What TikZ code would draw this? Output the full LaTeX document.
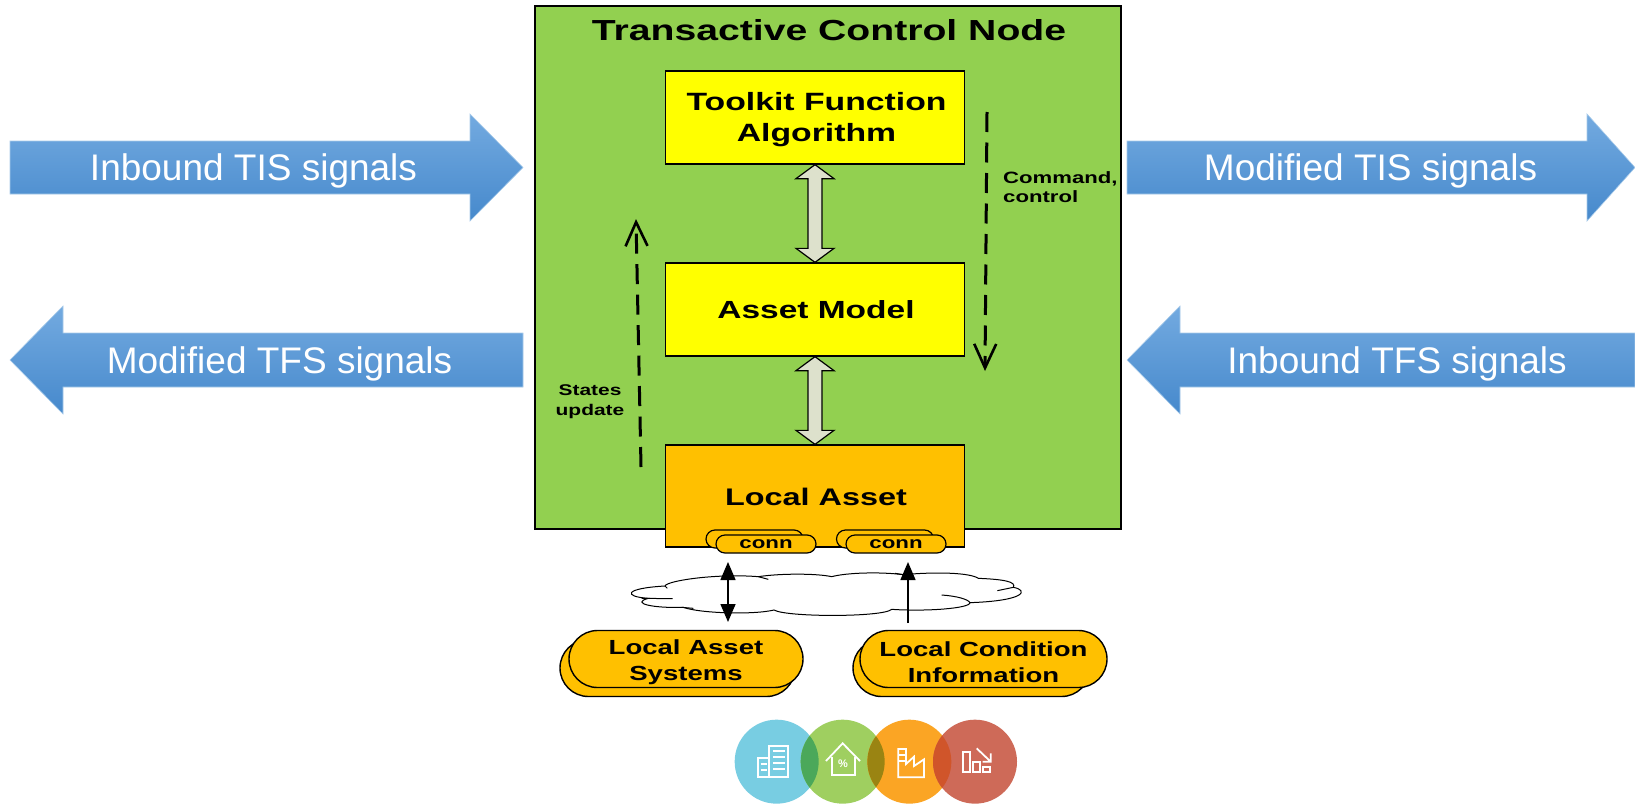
\documentclass[tikz,border=0pt]{standalone}
\usepackage{fontspec}
\setmainfont{Liberation Sans}
\newfontfamily\bfwide[FakeStretch=1.35]{Liberation Sans Bold}
\usetikzlibrary{arrows.meta,calc,shapes.misc}
\definecolor{greenbg}{HTML}{92D050}
\definecolor{amber}{HTML}{FFC000}
\definecolor{pureyellow}{HTML}{FFFF00}
\definecolor{blockfill}{HTML}{DDE1CC}
\definecolor{bluetop}{HTML}{73AAE0}
\definecolor{bluebot}{HTML}{4689CC}
\definecolor{blueedge}{HTML}{A8CBEA}
\definecolor{icA}{HTML}{78CDE2}
\definecolor{icB}{HTML}{9FCF60}
\definecolor{icC}{HTML}{FBA524}
\definecolor{icD}{HTML}{CE6A58}
\definecolor{ovA}{HTML}{4BA85A}
\definecolor{ovB}{HTML}{9A8412}
\definecolor{ovC}{HTML}{D0552A}
\newcommand{\wbf}[1]{\fontsize{#1}{#1}\selectfont\bfwide}
\tikzset{
  panel/.style={draw=black,line width=1.3pt,inner sep=0pt,minimum width=299pt,align=center,text=black},
  yellowbox/.style={panel,fill=pureyellow,minimum height=93pt},
  amberbox/.style={panel,fill=amber,minimum height=102pt},
  connpill/.style={rounded rectangle,draw=black,line width=1.2pt,fill=amber,inner sep=0pt,minimum width=100pt,minimum height=18pt},
  bigpill/.style={rounded rectangle,draw=black,line width=1.4pt,fill=amber,inner sep=0pt,align=center,minimum height=57pt},
  bluearrow/.style={draw=blueedge,line width=0.6pt,top color=bluetop,bottom color=bluebot},
  bluetext/.style={text=white,font=\fontsize{37}{40}\selectfont,inner sep=0pt},
  blockarrow/.style={draw=black,line width=1.2pt,fill=blockfill,line join=miter},
  dashflow/.style={draw=black,line width=3pt,dash pattern=on 20pt off 10.5pt,-{Straight Barb[length=24pt,width=22pt,line width=2.6pt]}},
  smallflow/.style={draw=black,line width=1.5pt},
  cloudline/.style={draw=black,line width=1pt},
  iconline/.style={draw=white,line width=1.8pt,line join=miter},
}
\newcommand{\blockarrow}[2]{%
  \path[blockarrow] (#1.south) -- ++(19,14) -- ++(-12,0) -- ($(#2.north)+(7,-14)$) -- ++(12,0) -- (#2.north)
    -- ++(-19,-14) -- ++(12,0) -- ($(#1.south)+(-7,14)$) -- ++(-12,0) -- cycle;}
\begin{document}
\begin{tikzpicture}[x=1pt,y=-1pt]
\useasboundingbox[fill=white] (0,0) rectangle (1635,803);

% main container
\node[draw=black,line width=1.4pt,fill=greenbg,minimum width=586pt,minimum height=523pt,inner sep=0pt] (tcn) at (828,267.5) {};
\node[inner sep=0pt] (title) at (829,30) {\wbf{29}Transactive Control Node};

% blue arrows
\path[bluearrow] (10,141) -- (470,141) -- (470,114) -- (523,167.5) -- (470,221) -- (470,194) -- (10,194) -- cycle;
\node[bluetext] (tis) at (253.5,171) {Inbound TIS signals};
\path[bluearrow] (523,333) -- (63,333) -- (63,306) -- (10,360) -- (63,414) -- (63,387) -- (523,387) -- cycle;
\node[bluetext] (tfs) at (279.5,364) {Modified TFS signals};
\path[bluearrow] (1127,141) -- (1587,141) -- (1587,114) -- (1635,167.5) -- (1587,221) -- (1587,194) -- (1127,194) -- cycle;
\node[bluetext] (mtis) at (1370.5,171) {Modified TIS signals};
\path[bluearrow] (1635,333) -- (1180,333) -- (1180,306) -- (1127,360) -- (1180,414) -- (1180,387) -- (1635,387) -- cycle;
\node[bluetext] (itfs) at (1397,364) {Inbound TFS signals};

% inner boxes
\node[yellowbox] (tk) at (815,117.5) {};
\node[inner sep=0pt,align=center] (tktext) at (816.5,119.5) {\wbf{25}Toolkit Function\\[12pt]\wbf{25}Algorithm};
\node[yellowbox] (am) at (815,309.5) {};
\node[inner sep=0pt] (amtext) at (816,309.5) {\wbf{24.8}Asset Model};
\node[amberbox] (la) at (815,496) {};
\node[inner sep=0pt] (latext) at (816,497) {\wbf{24}Local Asset};

\blockarrow{tk}{am}
\blockarrow{am}{la}

% dashed flows
\coordinate (cmdstart) at (987,112);
\coordinate (cmdend) at (985,371);
\coordinate (upstart) at (641,467);
\coordinate (upend) at (636,219);
\path[dashflow] (cmdstart) -- (cmdend);
\path[dashflow] (upstart) -- (upend);
\node[inner sep=0pt,align=left,anchor=north west] (cmd) at (1003,171) {\wbf{16.4}Command,\\[4pt]\wbf{16.4}control};
\node[inner sep=0pt,align=center] (st) at (590,402) {\wbf{15.5}States\\[8pt]\wbf{15.5}update};

% connectors on local asset
\node[connpill,minimum width=97pt] (c1b) at (754.5,539) {};
\node[connpill] (c1) at (766,544) {\wbf{16.5}conn};
\node[connpill,minimum width=97pt] (c2b) at (885,539) {};
\node[connpill] (c2) at (896,544) {\wbf{16.5}conn};

% cloud
\begin{scope}[shift={(620,560)},scale=1/3]
\draw[cloudline,fill=white]
  (135,78) .. controls (140,62) and (290,40) .. (415,50)
  .. controls (480,40) and (590,40) .. (635,50)
  .. controls (680,38) and (780,35) .. (850,44)
  .. controls (950,35) and (1050,38) .. (1075,55)
  .. controls (1150,58) and (1190,65) .. (1180,82)
  .. controls (1225,90) and (1220,122) .. (1050,128)
  .. controls (1050,145) and (920,155) .. (815,148)
  .. controls (790,172) and (500,172) .. (462,150)
  .. controls (400,165) and (240,160) .. (190,142)
  .. controls (100,145) and (30,130) .. (85,115)
  .. controls (10,110) and (10,85) .. (135,78) -- cycle;
\draw[cloudline] (415,50) -- (445,58);
\draw[cloudline] (1132,92) -- (1180,82);
\draw[cloudline] (965,105) .. controls (1010,108) and (1045,118) .. (1050,128);
\draw[cloudline] (185,142) -- (220,145);
\draw[cloudline] (65,115) -- (158,116);
\draw[cloudline] (135,78) -- (142,85);
\draw[cloudline] (825,40) -- (850,44);
\end{scope}

% bottom pills
\node[bigpill,minimum width=235pt] (asb) at (677.5,668) {};
\node[bigpill,minimum width=234pt] (as) at (686,659) {};
\node[inner sep=0pt,align=center] (astext) at (686,662) {\wbf{20.4}Local Asset\\[10pt]\wbf{20.4}Systems};
\node[bigpill,minimum width=237pt] (cib) at (971.5,668) {};
\node[bigpill,minimum width=247pt] (ci) at (983.5,659) {};
\node[inner sep=0pt,align=center] (citext) at (983.5,662) {\wbf{20.4}Local Condition\\[10pt]\wbf{20.4}Information};

% thin arrows
\coordinate (a1t) at (728,562);
\coordinate (a1b) at (728,622);
\coordinate (a2t) at (908,562);
\coordinate (a2b) at (908,623);
\path[smallflow,{Triangle[width=15pt,length=18pt]}-{Triangle[width=15pt,length=18pt]}] (a1t) -- (a1b);
\path[smallflow,-{Triangle[width=15pt,length=18pt]}] (a2b) -- (a2t);

% icons
\begin{scope}[shift={(720,700)},scale=1/3]
\path[fill=icA] (170,185) circle (126);
\path[fill=icB] (368,185) circle (126);
\path[fill=icC] (568,185) circle (126);
\path[fill=icD] (765,185) circle (126);
\begin{scope}\clip (170,185) circle (126); \path[fill=ovA] (368,185) circle (126);\end{scope}
\begin{scope}\clip (368,185) circle (126); \path[fill=ovB] (568,185) circle (126);\end{scope}
\begin{scope}\clip (568,185) circle (126); \path[fill=ovC] (765,185) circle (126);\end{scope}
\begin{scope}[iconline]
\draw (148,232) -- (148,137) -- (205,137) -- (205,232) -- (113,232) -- (113,175) -- (148,175);
\foreach \yy in {152,170,188,206}{\draw (160,\yy) -- (195,\yy);}
\foreach \yy in {192,210}{\draw (122,\yy) -- (140,\yy);}
\draw (318,183) -- (368,130) -- (420,183);
\draw (335,170) -- (335,225) -- (405,225) -- (405,170);
\draw (535,232) -- (535,147) -- (558,147) -- (558,192) -- (582,170) -- (582,198) -- (612,178) -- (612,232) -- cycle;
\draw (535,165) -- (558,165) (535,183) -- (558,183);
\draw (728,217) rectangle (750,157);
\draw (758,217) rectangle (780,185);
\draw (790,217) rectangle (810,200);
\draw (770,145) -- (812,185) (812,160) -- (812,185) -- (788,185);
\end{scope}
\end{scope}
\node[text=white,inner sep=0pt,font=\fontsize{11}{11}\selectfont\bfseries] (pct) at (843,764) {\%};
\end{tikzpicture}
\end{document}
